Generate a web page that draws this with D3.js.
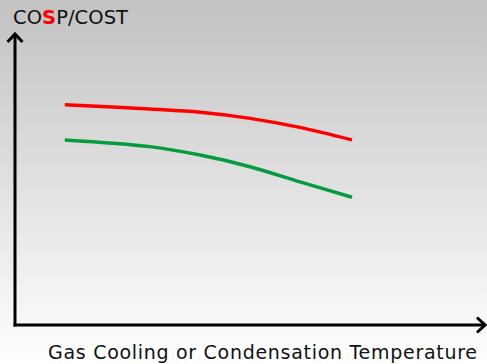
<!DOCTYPE html>
<html>
<head>
<meta charset="utf-8">
<script src="https://cdn.jsdelivr.net/npm/d3@7"></script>
<style>
  html, body { margin: 0; padding: 0; background: #fff; }
  svg { display: block; font-family: "DejaVu Sans", Verdana, sans-serif; }
</style>
</head>
<body>
<div id="chart"></div>
<script>
// curves (arbitrary temperature / ratio units)
const temps = [1.06, 2.87, 3.94, 5.0, 6.06, 7.17];
const cospValues = [7.57, 7.42, 7.31, 7.10, 6.79, 6.36];
const costValues = [6.36, 6.13, 5.84, 5.44, 4.92, 4.39];
const yTitle = ["CO", "S", "P/COST"];
const xTitle = "Gas Cooling or Condensation Temperature";

const width = 487, height = 364;
const margin = {top: 34, right: 2, bottom: 39, left: 15};

const svg = d3.select("#chart")
    .append("svg")
    .attr("width", width)
    .attr("height", height);

// grey-to-white backdrop
const defs = svg.append("defs");
const grad = defs.append("linearGradient")
    .attr("id", "bg")
    .attr("x1", 0).attr("y1", 0).attr("x2", 0).attr("y2", 1);
grad.append("stop").attr("offset", "0%").attr("stop-color", "#c2c2c2");
grad.append("stop").attr("offset", "100%").attr("stop-color", "#ffffff");

defs.append("marker")
    .attr("id", "arrow")
    .attr("viewBox", "-10 -10 20 20")
    .attr("refX", 0).attr("refY", 0)
    .attr("markerWidth", 20).attr("markerHeight", 20)
    .attr("markerUnits", "userSpaceOnUse")
    .attr("orient", "auto")
    .append("path")
    .attr("d", "M-8,-7.5L0,0L-8,7.5")
    .attr("fill", "none")
    .attr("stroke", "#000")
    .attr("stroke-width", 3);

svg.append("rect")
    .attr("width", width)
    .attr("height", height)
    .attr("fill", "url(#bg)");

// scales
const x = d3.scaleLinear().domain([0, 10]).range([margin.left, width - margin.right]);
const y = d3.scaleLinear().domain([0, 10]).range([height - margin.bottom, margin.top]);

// axes: bare arrows, no ticks
const xAxis = svg.append("g")
    .attr("transform", `translate(0, ${y(0)})`)
    .call(d3.axisBottom(x).ticks(0).tickSize(0).tickSizeOuter(0));
xAxis.select(".domain")
    .attr("stroke", "#000")
    .attr("stroke-width", 3)
    .attr("d", `M${x(0) - 1.5},0H${x(10)}`)
    .attr("marker-end", "url(#arrow)");

const yAxis = svg.append("g")
    .attr("transform", `translate(${x(0)}, 0)`)
    .call(d3.axisLeft(y).ticks(0).tickSize(0).tickSizeOuter(0));
yAxis.select(".domain")
    .attr("stroke", "#000")
    .attr("stroke-width", 3)
    .attr("d", `M0,${y(0) + 1.5}V${y(10)}`)
    .attr("marker-end", "url(#arrow)");

// the two curves
const line = d3.line()
    .x(d => x(d[0]))
    .y(d => y(d[1]))
    .curve(d3.curveCatmullRom);

svg.append("path")
    .datum(d3.zip(temps, cospValues))
    .attr("fill", "none")
    .attr("stroke", "#ff0000")
    .attr("stroke-width", 3.5)
    .attr("d", line);

svg.append("path")
    .datum(d3.zip(temps, costValues))
    .attr("fill", "none")
    .attr("stroke", "#079a3e")
    .attr("stroke-width", 3.5)
    .attr("d", line);

// titles (Verdana-ish spacing, stretched to the original widths)
const yt = svg.append("text")
    .attr("x", 13)
    .attr("y", 24)
    .attr("textLength", 115)
    .attr("lengthAdjust", "spacing")
    .style("font-size", "19.5px")
    .attr("fill", "#111");
yTitle.forEach((t, i) => {
    yt.append("tspan")
        .text(t)
        .attr("fill", i === 1 ? "#ff0000" : "#111")
        .attr("font-weight", i === 1 ? "bold" : "normal");
});

svg.append("text")
    .attr("x", 48)
    .attr("y", 359)
    .attr("textLength", 429)
    .attr("lengthAdjust", "spacing")
    .style("font-size", "19px")
    .attr("fill", "#111")
    .text(xTitle);
</script>
</body>
</html>
